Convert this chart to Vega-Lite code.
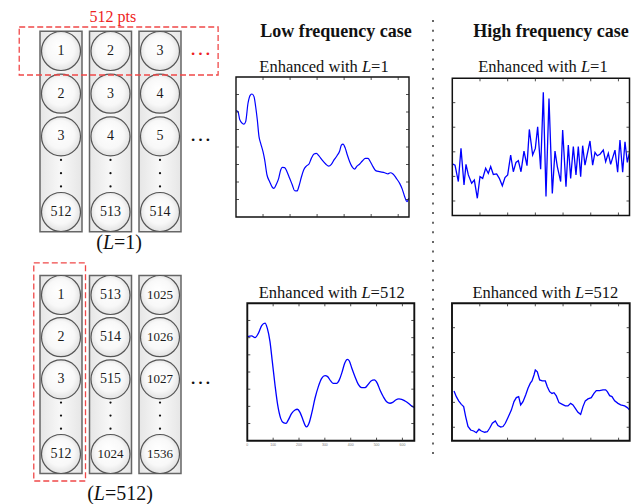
{
"$schema":"https://vega.github.io/schema/vega-lite/v6.json",
"width":635,"height":504,"padding":0,"autosize":{"type":"none"},
"background":"white",
"config":{"view":{"stroke":null},"text":{"font":"Liberation Serif","color":"#111"}},
"datasets":{
"cols":[{"col":0},{"col":1},{"col":2}],
"one":[{}],
"topCells":[
{"col":0,"slot":0,"label":"1"},{"col":0,"slot":1,"label":"2"},{"col":0,"slot":2,"label":"3"},{"col":0,"slot":3.77,"label":"512"},
{"col":1,"slot":0,"label":"2"},{"col":1,"slot":1,"label":"3"},{"col":1,"slot":2,"label":"4"},{"col":1,"slot":3.77,"label":"513"},
{"col":2,"slot":0,"label":"3"},{"col":2,"slot":1,"label":"4"},{"col":2,"slot":2,"label":"5"},{"col":2,"slot":3.77,"label":"514"}],
"bottomCells":[
{"col":0,"slot":0,"label":"1"},{"col":0,"slot":1,"label":"2"},{"col":0,"slot":2,"label":"3"},{"col":0,"slot":3.77,"label":"512"},
{"col":1,"slot":0,"label":"513"},{"col":1,"slot":1,"label":"514"},{"col":1,"slot":2,"label":"515"},{"col":1,"slot":3.77,"label":"1024"},
{"col":2,"slot":0,"label":"1025"},{"col":2,"slot":1,"label":"1026"},{"col":2,"slot":2,"label":"1027"},{"col":2,"slot":3.77,"label":"1536"}],
"xticks":[{"t":100},{"t":200},{"t":300},{"t":400},{"t":500},{"t":600}],
"xlabels":[{"t":0},{"t":100},{"t":200},{"t":300},{"t":400},{"t":500},{"t":600}],
"yticks8":[{"t":1},{"t":2},{"t":3},{"t":4},{"t":5},{"t":6},{"t":7}],
"yticks5":[{"t":-2},{"t":-1},{"t":0},{"t":1},{"t":2}],
"c1":[{"i":0,"v":6.08},{"i":7.4,"v":6.02},{"i":13.6,"v":5.58},{"i":23.4,"v":5.35},{"i":29.6,"v":5.31},{"i":35.8,"v":5.45},{"i":44.4,"v":6.5},{"i":53,"v":6.97},{"i":59.2,"v":7.03},{"i":66.6,"v":6.88},{"i":72.8,"v":6.3},{"i":78.9,"v":5.54},{"i":85.1,"v":4.59},{"i":91.3,"v":4.21},{"i":99.9,"v":3.73},{"i":106.1,"v":3.26},{"i":114.7,"v":2.4},{"i":124.6,"v":2.02},{"i":134.4,"v":1.7},{"i":140.6,"v":1.64},{"i":149.2,"v":1.87},{"i":157.9,"v":2.21},{"i":165.3,"v":2.69},{"i":171.4,"v":2.84},{"i":180,"v":2.82},{"i":188.7,"v":2.59},{"i":198.5,"v":2.21},{"i":208.4,"v":1.83},{"i":217,"v":1.5},{"i":225.7,"v":1.49},{"i":233.1,"v":1.77},{"i":241.7,"v":2.27},{"i":250.3,"v":2.69},{"i":260.2,"v":2.91},{"i":270.1,"v":3.03},{"i":278.7,"v":3.35},{"i":288.6,"v":3.6},{"i":297.2,"v":3.64},{"i":307.1,"v":3.49},{"i":318.2,"v":3.26},{"i":331.7,"v":3.03},{"i":342.8,"v":2.91},{"i":352.7,"v":3.01},{"i":362.6,"v":3.26},{"i":373.7,"v":3.5},{"i":383.5,"v":3.77},{"i":389.7,"v":4.11},{"i":395.9,"v":4.17},{"i":404.5,"v":3.92},{"i":411.9,"v":3.54},{"i":420.5,"v":3.16},{"i":429.2,"v":2.88},{"i":439,"v":2.74},{"i":447.6,"v":2.91},{"i":457.5,"v":3.03},{"i":467.4,"v":3.2},{"i":478.5,"v":3.35},{"i":488.3,"v":3.35},{"i":497,"v":3.16},{"i":506.8,"v":2.88},{"i":516.7,"v":2.65},{"i":531.5,"v":2.59},{"i":550,"v":2.53},{"i":562.3,"v":2.46},{"i":570.9,"v":2.53},{"i":580.8,"v":2.46},{"i":593.2,"v":2.21},{"i":605.5,"v":1.92},{"i":615.4,"v":1.58},{"i":624,"v":1.16},{"i":632.6,"v":0.88},{"i":638.8,"v":1.07}],
"c2":[{"i":2,"v":-0.5},{"i":9.8,"v":-0.54},{"i":21.8,"v":-1.21},{"i":31.4,"v":0.14},{"i":42.3,"v":-1.35},{"i":49.5,"v":-0.51},{"i":57.9,"v":-0.94},{"i":69.9,"v":-1.28},{"i":79.6,"v":-1.15},{"i":90.4,"v":-1.89},{"i":100,"v":-1.01},{"i":109.7,"v":-1.08},{"i":120.5,"v":-0.67},{"i":130.1,"v":-0.88},{"i":138.6,"v":-0.6},{"i":148.2,"v":-0.92},{"i":160.2,"v":-0.9},{"i":169.8,"v":-1.08},{"i":180.7,"v":-1.38},{"i":190.3,"v":-1.05},{"i":200,"v":-0.94},{"i":210.8,"v":-0.13},{"i":220.4,"v":-0.81},{"i":230,"v":-0.43},{"i":238.5,"v":-0.36},{"i":248.1,"v":-0.81},{"i":258.9,"v":0.03},{"i":269.8,"v":-0.56},{"i":278.2,"v":0.91},{"i":290.2,"v":-0.13},{"i":299.9,"v":0.14},{"i":308.3,"v":1.02},{"i":319.1,"v":-0.71},{"i":328.7,"v":2.42},{"i":338.4,"v":-1.82},{"i":349.2,"v":2.17},{"i":361.2,"v":-1.69},{"i":370.9,"v":0.03},{"i":379.3,"v":-0.6},{"i":391.4,"v":-1.21},{"i":398.6,"v":0.89},{"i":410.6,"v":-1.42},{"i":419,"v":0.28},{"i":427.5,"v":-1.08},{"i":437.1,"v":0.21},{"i":446.7,"v":-0.94},{"i":455.1,"v":0.21},{"i":463.6,"v":-1.01},{"i":470.8,"v":0.25},{"i":479.2,"v":-0.54},{"i":497.3,"v":0.44},{"i":506.9,"v":-0.54},{"i":515.4,"v":-0.02},{"i":523.8,"v":-0.16},{"i":533.4,"v":-0.1},{"i":545.4,"v":0.07},{"i":553.9,"v":-0.4},{"i":563.5,"v":-0.06},{"i":571.9,"v":-0.51},{"i":587.6,"v":0.07},{"i":597.2,"v":-0.83},{"i":605.6,"v":0.48},{"i":615.3,"v":-0.83},{"i":623.7,"v":0.41},{"i":632.1,"v":-0.43},{"i":639.3,"v":-0.06}],
"c3":[{"i":0,"v":6.06},{"i":16.9,"v":6.1},{"i":29.8,"v":6.0},{"i":42.7,"v":6.25},{"i":55.6,"v":6.7},{"i":68.5,"v":6.84},{"i":77.5,"v":6.54},{"i":87.8,"v":5.77},{"i":96.8,"v":4.6},{"i":107.2,"v":3.24},{"i":117.5,"v":2.08},{"i":129.1,"v":1.3},{"i":139.4,"v":1.05},{"i":149.7,"v":1.01},{"i":158.7,"v":1.21},{"i":171.6,"v":1.59},{"i":184.5,"v":1.79},{"i":193.5,"v":1.83},{"i":203.9,"v":1.65},{"i":214.2,"v":1.26},{"i":223.2,"v":0.91},{"i":229.7,"v":0.8},{"i":238.7,"v":1.01},{"i":249,"v":1.59},{"i":261.9,"v":2.47},{"i":274.8,"v":3.15},{"i":287.7,"v":3.63},{"i":300.6,"v":3.79},{"i":310.9,"v":3.73},{"i":322.5,"v":3.48},{"i":332.8,"v":3.34},{"i":345.7,"v":3.34},{"i":356,"v":3.54},{"i":366.3,"v":3.98},{"i":376.7,"v":4.51},{"i":387,"v":4.74},{"i":394.7,"v":4.64},{"i":403.7,"v":4.25},{"i":416.6,"v":3.73},{"i":429.5,"v":3.28},{"i":442.4,"v":3.09},{"i":455.3,"v":3.09},{"i":465.6,"v":3.24},{"i":478.5,"v":3.48},{"i":491.4,"v":3.54},{"i":503,"v":3.34},{"i":513.3,"v":2.95},{"i":526.2,"v":2.56},{"i":539.1,"v":2.27},{"i":552,"v":2.18},{"i":562.3,"v":2.23},{"i":573.9,"v":2.37},{"i":586.8,"v":2.43},{"i":597.2,"v":2.41},{"i":610.1,"v":2.31},{"i":623,"v":2.18},{"i":635.9,"v":2.02},{"i":644.9,"v":1.94}],
"c4":[{"i":7.2,"v":-0.54},{"i":15.6,"v":-0.77},{"i":24,"v":-0.94},{"i":33.6,"v":-1.08},{"i":42,"v":-1.17},{"i":49.2,"v":-1.57},{"i":57.6,"v":-1.97},{"i":67.2,"v":-2.11},{"i":78,"v":-2.15},{"i":87.6,"v":-2.22},{"i":97.2,"v":-2.08},{"i":105.6,"v":-2.15},{"i":117.6,"v":-2.2},{"i":127.2,"v":-2.18},{"i":135.6,"v":-2.04},{"i":145.2,"v":-1.84},{"i":156,"v":-1.75},{"i":165.6,"v":-1.93},{"i":175.3,"v":-1.99},{"i":183.7,"v":-1.97},{"i":192,"v":-1.84},{"i":201.7,"v":-1.61},{"i":213.7,"v":-1.31},{"i":223.3,"v":-0.97},{"i":231.7,"v":-0.81},{"i":240.1,"v":-0.77},{"i":247.3,"v":-1.1},{"i":255.7,"v":-0.97},{"i":265.3,"v":-0.7},{"i":273.7,"v":-0.43},{"i":282.1,"v":-0.23},{"i":288.1,"v":-0.14},{"i":295.3,"v":0.1},{"i":300.1,"v":0.3},{"i":307.3,"v":0.23},{"i":315.7,"v":-0.1},{"i":325.3,"v":-0.14},{"i":336.1,"v":-0.14},{"i":343.3,"v":-0.37},{"i":351.7,"v":-0.57},{"i":360.1,"v":-0.64},{"i":367.3,"v":-0.61},{"i":375.7,"v":-0.74},{"i":385.3,"v":-1.01},{"i":397.3,"v":-1.08},{"i":408.1,"v":-1.14},{"i":417.7,"v":-1.14},{"i":427.3,"v":-1.04},{"i":435.7,"v":-1.1},{"i":444.1,"v":-1.24},{"i":453.7,"v":-1.4},{"i":463.3,"v":-1.48},{"i":471.7,"v":-1.17},{"i":480.1,"v":-0.94},{"i":489.7,"v":-0.86},{"i":501.7,"v":-0.81},{"i":511.3,"v":-0.64},{"i":519.7,"v":-0.53},{"i":531.7,"v":-0.53},{"i":543.8,"v":-0.5},{"i":553.4,"v":-0.5},{"i":559.4,"v":-0.57},{"i":567.8,"v":-0.73},{"i":576.2,"v":-0.77},{"i":585.8,"v":-0.94},{"i":597.8,"v":-1.04},{"i":607.4,"v":-1.1},{"i":621.8,"v":-1.14},{"i":631.4,"v":-1.21},{"i":639.8,"v":-1.31}]
},
"layer":[
{"layer":[
 {"data":{"name":"cols"},"mark":{"type":"bar","width":42,"fill":{"gradient":"linear","x1":0,"y1":0,"x2":1,"y2":0,"stops":[{"offset":0,"color":"#e6e6e6"},{"offset":0.5,"color":"#f8f8f8"},{"offset":1,"color":"#e6e6e6"}]},"stroke":"#666","strokeWidth":1.5},
  "encoding":{"x":{"field":"col","type":"quantitative","scale":{"domain":[0,2],"range":[56,165],"zero":false,"nice":false},"axis":null},"y":{"datum":-0.46,"type":"quantitative","scale":{"domain":[0,3.77],"range":[51,212],"zero":false,"nice":false},"axis":null},"y2":{"datum":4.23}}},
 {"data":{"name":"topCells"},"mark":{"type":"circle","size":1521,"opacity":1,"fill":{"gradient":"radial","x1":0.45,"y1":0.35,"r1":0,"x2":0.5,"y2":0.5,"r2":0.55,"stops":[{"offset":0,"color":"#ffffff"},{"offset":0.65,"color":"#f8f8f8"},{"offset":1,"color":"#dcdcdc"}]},"stroke":"#555","strokeWidth":1.2},
  "encoding":{"x":{"field":"col","type":"quantitative","scale":{"domain":[0,2],"range":[56,165],"zero":false,"nice":false},"axis":null},"y":{"field":"slot","type":"quantitative","scale":{"domain":[0,3.77],"range":[51,212],"zero":false,"nice":false},"axis":null}}},
 {"data":{"name":"topCells"},"mark":{"type":"text","baseline":"middle","align":"center","color":"#1a1a1a","fontSize":14},
  "encoding":{"x":{"field":"col","type":"quantitative","scale":{"domain":[0,2],"range":[56,165],"zero":false,"nice":false},"axis":null},"y":{"field":"slot","type":"quantitative","scale":{"domain":[0,3.77],"range":[51,212],"zero":false,"nice":false},"axis":null},"text":{"field":"label"}}},
 {"data":{"name":"cols"},"mark":{"type":"circle","size":5,"color":"#111","opacity":1},
  "encoding":{"x":{"field":"col","type":"quantitative","scale":{"domain":[0,2],"range":[56,165],"zero":false,"nice":false},"axis":null},"y":{"datum":2.55,"type":"quantitative","scale":{"domain":[0,3.77],"range":[51,212],"zero":false,"nice":false},"axis":null}}},
 {"data":{"name":"cols"},"mark":{"type":"circle","size":5,"color":"#111","opacity":1},
  "encoding":{"x":{"field":"col","type":"quantitative","scale":{"domain":[0,2],"range":[56,165],"zero":false,"nice":false},"axis":null},"y":{"datum":2.86,"type":"quantitative","scale":{"domain":[0,3.77],"range":[51,212],"zero":false,"nice":false},"axis":null}}},
 {"data":{"name":"cols"},"mark":{"type":"circle","size":5,"color":"#111","opacity":1},
  "encoding":{"x":{"field":"col","type":"quantitative","scale":{"domain":[0,2],"range":[56,165],"zero":false,"nice":false},"axis":null},"y":{"datum":3.17,"type":"quantitative","scale":{"domain":[0,3.77],"range":[51,212],"zero":false,"nice":false},"axis":null}}},
 {"data":{"name":"one"},"mark":{"type":"text","text":"…","fontSize":22,"color":"#ee2222","align":"center","baseline":"alphabetic"},
  "encoding":{"x":{"datum":2.82,"type":"quantitative","scale":{"domain":[0,2],"range":[56,165],"zero":false,"nice":false},"axis":null},"y":{"datum":0.082,"type":"quantitative","scale":{"domain":[0,3.77],"range":[51,212],"zero":false,"nice":false},"axis":null}}},
 {"data":{"name":"one"},"mark":{"type":"text","text":"…","fontSize":22,"color":"#111","align":"center","baseline":"alphabetic"},
  "encoding":{"x":{"datum":2.82,"type":"quantitative","scale":{"domain":[0,2],"range":[56,165],"zero":false,"nice":false},"axis":null},"y":{"datum":2.108,"type":"quantitative","scale":{"domain":[0,3.77],"range":[51,212],"zero":false,"nice":false},"axis":null}}},
 {"data":{"name":"one"},"mark":{"type":"rect","fillOpacity":0,"stroke":"#f04848","strokeWidth":1.3,"strokeDash":[6,3]},
  "encoding":{"x":{"datum":-0.844,"type":"quantitative","scale":{"domain":[0,2],"range":[56,165],"zero":false,"nice":false},"axis":null},"x2":{"datum":3.174},"y":{"datum":-0.562,"type":"quantitative","scale":{"domain":[0,3.77],"range":[51,212],"zero":false,"nice":false},"axis":null},"y2":{"datum":0.562}}},
 {"data":{"name":"one"},"mark":{"type":"text","text":"512 pts","fontSize":16,"color":"#ee2222","align":"center","baseline":"middle"},
  "encoding":{"x":{"datum":1.046,"type":"quantitative","scale":{"domain":[0,2],"range":[56,165],"zero":false,"nice":false},"axis":null},"y":{"datum":-0.8,"type":"quantitative","scale":{"domain":[0,3.77],"range":[51,212],"zero":false,"nice":false},"axis":null}}},
 {"data":{"name":"one"},"mark":{"type":"text","text":"(","fontSize":20,"align":"right","baseline":"middle","dx":-16.2},
  "encoding":{"x":{"datum":1.174,"type":"quantitative","scale":{"domain":[0,2],"range":[56,165],"zero":false,"nice":false},"axis":null},"y":{"datum":4.5,"type":"quantitative","scale":{"domain":[0,3.77],"range":[51,212],"zero":false,"nice":false},"axis":null}}},
 {"data":{"name":"one"},"mark":{"type":"text","text":"L","fontSize":20,"fontStyle":"italic","align":"left","baseline":"middle","dx":-16.2},
  "encoding":{"x":{"datum":1.174,"type":"quantitative","scale":{"domain":[0,2],"range":[56,165],"zero":false,"nice":false},"axis":null},"y":{"datum":4.5,"type":"quantitative","scale":{"domain":[0,3.77],"range":[51,212],"zero":false,"nice":false},"axis":null}}},
 {"data":{"name":"one"},"mark":{"type":"text","text":"=1)","fontSize":20,"align":"left","baseline":"middle","dx":-5.1},
  "encoding":{"x":{"datum":1.174,"type":"quantitative","scale":{"domain":[0,2],"range":[56,165],"zero":false,"nice":false},"axis":null},"y":{"datum":4.5,"type":"quantitative","scale":{"domain":[0,3.77],"range":[51,212],"zero":false,"nice":false},"axis":null}}}
]},
{"layer":[
 {"data":{"name":"cols"},"mark":{"type":"bar","width":42,"fill":{"gradient":"linear","x1":0,"y1":0,"x2":1,"y2":0,"stops":[{"offset":0,"color":"#e6e6e6"},{"offset":0.5,"color":"#f8f8f8"},{"offset":1,"color":"#e6e6e6"}]},"stroke":"#666","strokeWidth":1.5},
  "encoding":{"x":{"field":"col","type":"quantitative","scale":{"domain":[0,2],"range":[56,165],"zero":false,"nice":false},"axis":null},"y":{"datum":-0.46,"type":"quantitative","scale":{"domain":[0,3.77],"range":[295,454],"zero":false,"nice":false},"axis":null},"y2":{"datum":4.23}}},
 {"data":{"name":"bottomCells"},"mark":{"type":"circle","size":1521,"opacity":1,"fill":{"gradient":"radial","x1":0.45,"y1":0.35,"r1":0,"x2":0.5,"y2":0.5,"r2":0.55,"stops":[{"offset":0,"color":"#ffffff"},{"offset":0.65,"color":"#f8f8f8"},{"offset":1,"color":"#dcdcdc"}]},"stroke":"#555","strokeWidth":1.2},
  "encoding":{"x":{"field":"col","type":"quantitative","scale":{"domain":[0,2],"range":[56,165],"zero":false,"nice":false},"axis":null},"y":{"field":"slot","type":"quantitative","scale":{"domain":[0,3.77],"range":[295,454],"zero":false,"nice":false},"axis":null}}},
 {"data":{"name":"bottomCells"},"transform":[{"filter":"length(datum.label) <= 3"}],"mark":{"type":"text","baseline":"middle","align":"center","color":"#1a1a1a","fontSize":14},
  "encoding":{"x":{"field":"col","type":"quantitative","scale":{"domain":[0,2],"range":[56,165],"zero":false,"nice":false},"axis":null},"y":{"field":"slot","type":"quantitative","scale":{"domain":[0,3.77],"range":[295,454],"zero":false,"nice":false},"axis":null},"text":{"field":"label"}}},
 {"data":{"name":"bottomCells"},"transform":[{"filter":"length(datum.label) > 3"}],"mark":{"type":"text","baseline":"middle","align":"center","color":"#1a1a1a","fontSize":13},
  "encoding":{"x":{"field":"col","type":"quantitative","scale":{"domain":[0,2],"range":[56,165],"zero":false,"nice":false},"axis":null},"y":{"field":"slot","type":"quantitative","scale":{"domain":[0,3.77],"range":[295,454],"zero":false,"nice":false},"axis":null},"text":{"field":"label"}}},
 {"data":{"name":"cols"},"mark":{"type":"circle","size":5,"color":"#111","opacity":1},
  "encoding":{"x":{"field":"col","type":"quantitative","scale":{"domain":[0,2],"range":[56,165],"zero":false,"nice":false},"axis":null},"y":{"datum":2.55,"type":"quantitative","scale":{"domain":[0,3.77],"range":[295,454],"zero":false,"nice":false},"axis":null}}},
 {"data":{"name":"cols"},"mark":{"type":"circle","size":5,"color":"#111","opacity":1},
  "encoding":{"x":{"field":"col","type":"quantitative","scale":{"domain":[0,2],"range":[56,165],"zero":false,"nice":false},"axis":null},"y":{"datum":2.86,"type":"quantitative","scale":{"domain":[0,3.77],"range":[295,454],"zero":false,"nice":false},"axis":null}}},
 {"data":{"name":"cols"},"mark":{"type":"circle","size":5,"color":"#111","opacity":1},
  "encoding":{"x":{"field":"col","type":"quantitative","scale":{"domain":[0,2],"range":[56,165],"zero":false,"nice":false},"axis":null},"y":{"datum":3.17,"type":"quantitative","scale":{"domain":[0,3.77],"range":[295,454],"zero":false,"nice":false},"axis":null}}},
 {"data":{"name":"one"},"mark":{"type":"text","text":"…","fontSize":22,"color":"#111","align":"center","baseline":"alphabetic"},
  "encoding":{"x":{"datum":2.82,"type":"quantitative","scale":{"domain":[0,2],"range":[56,165],"zero":false,"nice":false},"axis":null},"y":{"datum":2.122,"type":"quantitative","scale":{"domain":[0,3.77],"range":[295,454],"zero":false,"nice":false},"axis":null}}},
 {"data":{"name":"one"},"mark":{"type":"rect","fillOpacity":0,"stroke":"#f04848","strokeWidth":1.3,"strokeDash":[6,3]},
  "encoding":{"x":{"datum":-0.55,"type":"quantitative","scale":{"domain":[0,2],"range":[56,165],"zero":false,"nice":false},"axis":null},"x2":{"datum":0.495},"y":{"datum":-0.76,"type":"quantitative","scale":{"domain":[0,3.77],"range":[295,454],"zero":false,"nice":false},"axis":null},"y2":{"datum":4.41}}},
 {"data":{"name":"one"},"mark":{"type":"text","text":"(","fontSize":20,"align":"right","baseline":"middle","dx":-26.2},
  "encoding":{"x":{"datum":1.193,"type":"quantitative","scale":{"domain":[0,2],"range":[56,165],"zero":false,"nice":false},"axis":null},"y":{"datum":4.72,"type":"quantitative","scale":{"domain":[0,3.77],"range":[295,454],"zero":false,"nice":false},"axis":null}}},
 {"data":{"name":"one"},"mark":{"type":"text","text":"L","fontSize":20,"fontStyle":"italic","align":"left","baseline":"middle","dx":-26.2},
  "encoding":{"x":{"datum":1.193,"type":"quantitative","scale":{"domain":[0,2],"range":[56,165],"zero":false,"nice":false},"axis":null},"y":{"datum":4.72,"type":"quantitative","scale":{"domain":[0,3.77],"range":[295,454],"zero":false,"nice":false},"axis":null}}},
 {"data":{"name":"one"},"mark":{"type":"text","text":"=512)","fontSize":20,"align":"left","baseline":"middle","dx":-15.1},
  "encoding":{"x":{"datum":1.193,"type":"quantitative","scale":{"domain":[0,2],"range":[56,165],"zero":false,"nice":false},"axis":null},"y":{"datum":4.72,"type":"quantitative","scale":{"domain":[0,3.77],"range":[295,454],"zero":false,"nice":false},"axis":null}}}
]},
{"layer":[
 {"data":{"name":"c1"},"mark":{"type":"line","color":"#0000ff","strokeWidth":1.2,"interpolate":"monotone"},
  "encoding":{"x":{"field":"i","type":"quantitative","scale":{"domain":[0,640],"range":[236,409],"zero":false,"nice":false},"axis":null},"y":{"field":"v","type":"quantitative","scale":{"domain":[0,8],"range":[217,77],"zero":false,"nice":false},"axis":null}}},
 {"data":{"name":"one"},"mark":{"type":"rect","fillOpacity":0,"stroke":"#111","strokeWidth":1.4},
  "encoding":{"x":{"datum":0,"type":"quantitative","scale":{"domain":[0,640],"range":[236,409],"zero":false,"nice":false},"axis":null},"x2":{"datum":640},"y":{"datum":0,"type":"quantitative","scale":{"domain":[0,8],"range":[217,77],"zero":false,"nice":false},"axis":null},"y2":{"datum":8}}},
 {"data":{"name":"xticks"},"mark":{"type":"rule","color":"#222","strokeWidth":0.8,"y2Offset":3},
  "encoding":{"x":{"field":"t","type":"quantitative","scale":{"domain":[0,640],"range":[236,409],"zero":false,"nice":false},"axis":null},"y":{"datum":8,"type":"quantitative","scale":{"domain":[0,8],"range":[217,77],"zero":false,"nice":false},"axis":null},"y2":{"datum":8}}},
 {"data":{"name":"xticks"},"mark":{"type":"rule","color":"#222","strokeWidth":0.8,"y2Offset":-3},
  "encoding":{"x":{"field":"t","type":"quantitative","scale":{"domain":[0,640],"range":[236,409],"zero":false,"nice":false},"axis":null},"y":{"datum":0,"type":"quantitative","scale":{"domain":[0,8],"range":[217,77],"zero":false,"nice":false},"axis":null},"y2":{"datum":0}}},
 {"data":{"name":"yticks8"},"mark":{"type":"rule","color":"#222","strokeWidth":0.8,"x2Offset":3},
  "encoding":{"y":{"field":"t","type":"quantitative","scale":{"domain":[0,8],"range":[217,77],"zero":false,"nice":false},"axis":null},"x":{"datum":0,"type":"quantitative","scale":{"domain":[0,640],"range":[236,409],"zero":false,"nice":false},"axis":null},"x2":{"datum":0}}},
 {"data":{"name":"yticks8"},"mark":{"type":"rule","color":"#222","strokeWidth":0.8,"x2Offset":-3},
  "encoding":{"y":{"field":"t","type":"quantitative","scale":{"domain":[0,8],"range":[217,77],"zero":false,"nice":false},"axis":null},"x":{"datum":640,"type":"quantitative","scale":{"domain":[0,640],"range":[236,409],"zero":false,"nice":false},"axis":null},"x2":{"datum":640}}},
 {"data":{"name":"one"},"mark":{"type":"text","text":"Low frequency case","fontSize":18,"fontWeight":"bold","align":"center","baseline":"alphabetic"},
  "encoding":{"x":{"datum":370,"type":"quantitative","scale":{"domain":[0,640],"range":[236,409],"zero":false,"nice":false},"axis":null},"y":{"datum":10.27,"type":"quantitative","scale":{"domain":[0,8],"range":[217,77],"zero":false,"nice":false},"axis":null}}},
 {"data":{"name":"one"},"mark":{"type":"text","text":"Enhanced with","fontSize":16.5,"align":"right","baseline":"alphabetic","dx":33.8},
  "encoding":{"x":{"datum":325.6,"type":"quantitative","scale":{"domain":[0,640],"range":[236,409],"zero":false,"nice":false},"axis":null},"y":{"datum":8.3,"type":"quantitative","scale":{"domain":[0,8],"range":[217,77],"zero":false,"nice":false},"axis":null}}},
 {"data":{"name":"one"},"mark":{"type":"text","text":"L","fontSize":16.5,"fontStyle":"italic","align":"left","baseline":"alphabetic","dx":37.9},
  "encoding":{"x":{"datum":325.6,"type":"quantitative","scale":{"domain":[0,640],"range":[236,409],"zero":false,"nice":false},"axis":null},"y":{"datum":8.3,"type":"quantitative","scale":{"domain":[0,8],"range":[217,77],"zero":false,"nice":false},"axis":null}}},
 {"data":{"name":"one"},"mark":{"type":"text","text":"=1","fontSize":16.5,"align":"left","baseline":"alphabetic","dx":47.1},
  "encoding":{"x":{"datum":325.6,"type":"quantitative","scale":{"domain":[0,640],"range":[236,409],"zero":false,"nice":false},"axis":null},"y":{"datum":8.3,"type":"quantitative","scale":{"domain":[0,8],"range":[217,77],"zero":false,"nice":false},"axis":null}}}
]},
{"layer":[
 {"data":{"name":"c2"},"mark":{"type":"line","color":"#0000ff","strokeWidth":1.3},
  "encoding":{"x":{"field":"i","type":"quantitative","scale":{"domain":[0,640],"range":[452.3,629.5],"zero":false,"nice":false},"axis":null},"y":{"field":"v","type":"quantitative","scale":{"domain":[-2.59,2.99],"range":[215.5,78.3],"zero":false,"nice":false},"axis":null}}},
 {"data":{"name":"one"},"mark":{"type":"rect","fillOpacity":0,"stroke":"#111","strokeWidth":1.5},
  "encoding":{"x":{"datum":0,"type":"quantitative","scale":{"domain":[0,640],"range":[452.3,629.5],"zero":false,"nice":false},"axis":null},"x2":{"datum":640},"y":{"datum":-2.59,"type":"quantitative","scale":{"domain":[-2.59,2.99],"range":[215.5,78.3],"zero":false,"nice":false},"axis":null},"y2":{"datum":2.99}}},
 {"data":{"name":"xticks"},"mark":{"type":"rule","color":"#222","strokeWidth":0.8,"y2Offset":3},
  "encoding":{"x":{"field":"t","type":"quantitative","scale":{"domain":[0,640],"range":[452.3,629.5],"zero":false,"nice":false},"axis":null},"y":{"datum":2.99,"type":"quantitative","scale":{"domain":[-2.59,2.99],"range":[215.5,78.3],"zero":false,"nice":false},"axis":null},"y2":{"datum":2.99}}},
 {"data":{"name":"xticks"},"mark":{"type":"rule","color":"#222","strokeWidth":0.8,"y2Offset":-3},
  "encoding":{"x":{"field":"t","type":"quantitative","scale":{"domain":[0,640],"range":[452.3,629.5],"zero":false,"nice":false},"axis":null},"y":{"datum":-2.59,"type":"quantitative","scale":{"domain":[-2.59,2.99],"range":[215.5,78.3],"zero":false,"nice":false},"axis":null},"y2":{"datum":-2.59}}},
 {"data":{"name":"yticks5"},"mark":{"type":"rule","color":"#222","strokeWidth":0.8,"x2Offset":3},
  "encoding":{"y":{"field":"t","type":"quantitative","scale":{"domain":[-2.59,2.99],"range":[215.5,78.3],"zero":false,"nice":false},"axis":null},"x":{"datum":0,"type":"quantitative","scale":{"domain":[0,640],"range":[452.3,629.5],"zero":false,"nice":false},"axis":null},"x2":{"datum":0}}},
 {"data":{"name":"yticks5"},"mark":{"type":"rule","color":"#222","strokeWidth":0.8,"x2Offset":-3},
  "encoding":{"y":{"field":"t","type":"quantitative","scale":{"domain":[-2.59,2.99],"range":[215.5,78.3],"zero":false,"nice":false},"axis":null},"x":{"datum":640,"type":"quantitative","scale":{"domain":[0,640],"range":[452.3,629.5],"zero":false,"nice":false},"axis":null},"x2":{"datum":640}}},
 {"data":{"name":"one"},"mark":{"type":"rule","color":"#666","strokeWidth":2,"strokeDash":[2,7.6]},
  "encoding":{"x":{"datum":-69.7,"type":"quantitative","scale":{"domain":[0,640],"range":[452.3,629.5],"zero":false,"nice":false},"axis":null},"y":{"datum":5.358,"type":"quantitative","scale":{"domain":[-2.59,2.99],"range":[215.5,78.3],"zero":false,"nice":false},"axis":null},"y2":{"datum":-12.53}}},
 {"data":{"name":"one"},"mark":{"type":"text","text":"High frequency case","fontSize":18,"fontWeight":"bold","align":"center","baseline":"alphabetic"},
  "encoding":{"x":{"datum":356.4,"type":"quantitative","scale":{"domain":[0,640],"range":[452.3,629.5],"zero":false,"nice":false},"axis":null},"y":{"datum":4.654,"type":"quantitative","scale":{"domain":[-2.59,2.99],"range":[215.5,78.3],"zero":false,"nice":false},"axis":null}}},
 {"data":{"name":"one"},"mark":{"type":"text","text":"Enhanced with","fontSize":16.5,"align":"right","baseline":"alphabetic","dx":33.8},
  "encoding":{"x":{"datum":327.6,"type":"quantitative","scale":{"domain":[0,640],"range":[452.3,629.5],"zero":false,"nice":false},"axis":null},"y":{"datum":3.256,"type":"quantitative","scale":{"domain":[-2.59,2.99],"range":[215.5,78.3],"zero":false,"nice":false},"axis":null}}},
 {"data":{"name":"one"},"mark":{"type":"text","text":"L","fontSize":16.5,"fontStyle":"italic","align":"left","baseline":"alphabetic","dx":37.9},
  "encoding":{"x":{"datum":327.6,"type":"quantitative","scale":{"domain":[0,640],"range":[452.3,629.5],"zero":false,"nice":false},"axis":null},"y":{"datum":3.256,"type":"quantitative","scale":{"domain":[-2.59,2.99],"range":[215.5,78.3],"zero":false,"nice":false},"axis":null}}},
 {"data":{"name":"one"},"mark":{"type":"text","text":"=1","fontSize":16.5,"align":"left","baseline":"alphabetic","dx":47.1},
  "encoding":{"x":{"datum":327.6,"type":"quantitative","scale":{"domain":[0,640],"range":[452.3,629.5],"zero":false,"nice":false},"axis":null},"y":{"datum":3.256,"type":"quantitative","scale":{"domain":[-2.59,2.99],"range":[215.5,78.3],"zero":false,"nice":false},"axis":null}}}
]},
{"layer":[
 {"data":{"name":"c3"},"mark":{"type":"line","color":"#0000ff","strokeWidth":1.3,"interpolate":"monotone"},
  "encoding":{"x":{"field":"i","type":"quantitative","scale":{"domain":[0,646],"range":[247.3,414.3],"zero":false,"nice":false},"axis":null},"y":{"field":"v","type":"quantitative","scale":{"domain":[0,8],"range":[440.7,303.3],"zero":false,"nice":false},"axis":null}}},
 {"data":{"name":"one"},"mark":{"type":"rect","fillOpacity":0,"stroke":"#111","strokeWidth":1.9},
  "encoding":{"x":{"datum":0,"type":"quantitative","scale":{"domain":[0,646],"range":[247.3,414.3],"zero":false,"nice":false},"axis":null},"x2":{"datum":646},"y":{"datum":0,"type":"quantitative","scale":{"domain":[0,8],"range":[440.7,303.3],"zero":false,"nice":false},"axis":null},"y2":{"datum":8}}},
 {"data":{"name":"xticks"},"mark":{"type":"rule","color":"#222","strokeWidth":0.8,"y2Offset":3},
  "encoding":{"x":{"field":"t","type":"quantitative","scale":{"domain":[0,646],"range":[247.3,414.3],"zero":false,"nice":false},"axis":null},"y":{"datum":8,"type":"quantitative","scale":{"domain":[0,8],"range":[440.7,303.3],"zero":false,"nice":false},"axis":null},"y2":{"datum":8}}},
 {"data":{"name":"xticks"},"mark":{"type":"rule","color":"#222","strokeWidth":0.8,"y2Offset":-3},
  "encoding":{"x":{"field":"t","type":"quantitative","scale":{"domain":[0,646],"range":[247.3,414.3],"zero":false,"nice":false},"axis":null},"y":{"datum":0,"type":"quantitative","scale":{"domain":[0,8],"range":[440.7,303.3],"zero":false,"nice":false},"axis":null},"y2":{"datum":0}}},
 {"data":{"name":"yticks8"},"mark":{"type":"rule","color":"#222","strokeWidth":0.8,"x2Offset":3},
  "encoding":{"y":{"field":"t","type":"quantitative","scale":{"domain":[0,8],"range":[440.7,303.3],"zero":false,"nice":false},"axis":null},"x":{"datum":0,"type":"quantitative","scale":{"domain":[0,646],"range":[247.3,414.3],"zero":false,"nice":false},"axis":null},"x2":{"datum":0}}},
 {"data":{"name":"yticks8"},"mark":{"type":"rule","color":"#222","strokeWidth":0.8,"x2Offset":-3},
  "encoding":{"y":{"field":"t","type":"quantitative","scale":{"domain":[0,8],"range":[440.7,303.3],"zero":false,"nice":false},"axis":null},"x":{"datum":646,"type":"quantitative","scale":{"domain":[0,646],"range":[247.3,414.3],"zero":false,"nice":false},"axis":null},"x2":{"datum":646}}},
 {"data":{"name":"xlabels"},"mark":{"type":"text","fontSize":3.5,"color":"#777","align":"center","baseline":"top","dy":2,"font":"Liberation Sans"},
  "encoding":{"x":{"field":"t","type":"quantitative","scale":{"domain":[0,646],"range":[247.3,414.3],"zero":false,"nice":false},"axis":null},"y":{"datum":0,"type":"quantitative","scale":{"domain":[0,8],"range":[440.7,303.3],"zero":false,"nice":false},"axis":null},"text":{"field":"t","type":"quantitative","format":"d"}}},
 {"data":{"name":"one"},"mark":{"type":"text","text":"Enhanced with","fontSize":16.5,"align":"right","baseline":"alphabetic","dx":25.6},
  "encoding":{"x":{"datum":326.5,"type":"quantitative","scale":{"domain":[0,646],"range":[247.3,414.3],"zero":false,"nice":false},"axis":null},"y":{"datum":8.29,"type":"quantitative","scale":{"domain":[0,8],"range":[440.7,303.3],"zero":false,"nice":false},"axis":null}}},
 {"data":{"name":"one"},"mark":{"type":"text","text":"L","fontSize":16.5,"fontStyle":"italic","align":"left","baseline":"alphabetic","dx":29.7},
  "encoding":{"x":{"datum":326.5,"type":"quantitative","scale":{"domain":[0,646],"range":[247.3,414.3],"zero":false,"nice":false},"axis":null},"y":{"datum":8.29,"type":"quantitative","scale":{"domain":[0,8],"range":[440.7,303.3],"zero":false,"nice":false},"axis":null}}},
 {"data":{"name":"one"},"mark":{"type":"text","text":"=512","fontSize":16.5,"align":"left","baseline":"alphabetic","dx":38.9},
  "encoding":{"x":{"datum":326.5,"type":"quantitative","scale":{"domain":[0,646],"range":[247.3,414.3],"zero":false,"nice":false},"axis":null},"y":{"datum":8.29,"type":"quantitative","scale":{"domain":[0,8],"range":[440.7,303.3],"zero":false,"nice":false},"axis":null}}}
]},
{"layer":[
 {"data":{"name":"c4"},"mark":{"type":"line","color":"#0000ff","strokeWidth":1.3},
  "encoding":{"x":{"field":"i","type":"quantitative","scale":{"domain":[0,640],"range":[452,629.7],"zero":false,"nice":false},"axis":null},"y":{"field":"v","type":"quantitative","scale":{"domain":[-2.54,2.98],"range":[440.7,303.3],"zero":false,"nice":false},"axis":null}}},
 {"data":{"name":"one"},"mark":{"type":"rect","fillOpacity":0,"stroke":"#111","strokeWidth":1.9},
  "encoding":{"x":{"datum":0,"type":"quantitative","scale":{"domain":[0,640],"range":[452,629.7],"zero":false,"nice":false},"axis":null},"x2":{"datum":640},"y":{"datum":-2.54,"type":"quantitative","scale":{"domain":[-2.54,2.98],"range":[440.7,303.3],"zero":false,"nice":false},"axis":null},"y2":{"datum":2.98}}},
 {"data":{"name":"xticks"},"mark":{"type":"rule","color":"#222","strokeWidth":0.8,"y2Offset":3},
  "encoding":{"x":{"field":"t","type":"quantitative","scale":{"domain":[0,640],"range":[452,629.7],"zero":false,"nice":false},"axis":null},"y":{"datum":2.98,"type":"quantitative","scale":{"domain":[-2.54,2.98],"range":[440.7,303.3],"zero":false,"nice":false},"axis":null},"y2":{"datum":2.98}}},
 {"data":{"name":"xticks"},"mark":{"type":"rule","color":"#222","strokeWidth":0.8,"y2Offset":-3},
  "encoding":{"x":{"field":"t","type":"quantitative","scale":{"domain":[0,640],"range":[452,629.7],"zero":false,"nice":false},"axis":null},"y":{"datum":-2.54,"type":"quantitative","scale":{"domain":[-2.54,2.98],"range":[440.7,303.3],"zero":false,"nice":false},"axis":null},"y2":{"datum":-2.54}}},
 {"data":{"name":"yticks5"},"mark":{"type":"rule","color":"#222","strokeWidth":0.8,"x2Offset":3},
  "encoding":{"y":{"field":"t","type":"quantitative","scale":{"domain":[-2.54,2.98],"range":[440.7,303.3],"zero":false,"nice":false},"axis":null},"x":{"datum":0,"type":"quantitative","scale":{"domain":[0,640],"range":[452,629.7],"zero":false,"nice":false},"axis":null},"x2":{"datum":0}}},
 {"data":{"name":"yticks5"},"mark":{"type":"rule","color":"#222","strokeWidth":0.8,"x2Offset":-3},
  "encoding":{"y":{"field":"t","type":"quantitative","scale":{"domain":[-2.54,2.98],"range":[440.7,303.3],"zero":false,"nice":false},"axis":null},"x":{"datum":640,"type":"quantitative","scale":{"domain":[0,640],"range":[452,629.7],"zero":false,"nice":false},"axis":null},"x2":{"datum":640}}},
 {"data":{"name":"one"},"mark":{"type":"text","text":"Enhanced with","fontSize":16.5,"align":"right","baseline":"alphabetic","dx":25.6},
  "encoding":{"x":{"datum":336,"type":"quantitative","scale":{"domain":[0,640],"range":[452,629.7],"zero":false,"nice":false},"axis":null},"y":{"datum":3.181,"type":"quantitative","scale":{"domain":[-2.54,2.98],"range":[440.7,303.3],"zero":false,"nice":false},"axis":null}}},
 {"data":{"name":"one"},"mark":{"type":"text","text":"L","fontSize":16.5,"fontStyle":"italic","align":"left","baseline":"alphabetic","dx":29.7},
  "encoding":{"x":{"datum":336,"type":"quantitative","scale":{"domain":[0,640],"range":[452,629.7],"zero":false,"nice":false},"axis":null},"y":{"datum":3.181,"type":"quantitative","scale":{"domain":[-2.54,2.98],"range":[440.7,303.3],"zero":false,"nice":false},"axis":null}}},
 {"data":{"name":"one"},"mark":{"type":"text","text":"=512","fontSize":16.5,"align":"left","baseline":"alphabetic","dx":38.9},
  "encoding":{"x":{"datum":336,"type":"quantitative","scale":{"domain":[0,640],"range":[452,629.7],"zero":false,"nice":false},"axis":null},"y":{"datum":3.181,"type":"quantitative","scale":{"domain":[-2.54,2.98],"range":[440.7,303.3],"zero":false,"nice":false},"axis":null}}}
]}
],
"resolve":{"scale":{"x":"independent","y":"independent"}}
}
